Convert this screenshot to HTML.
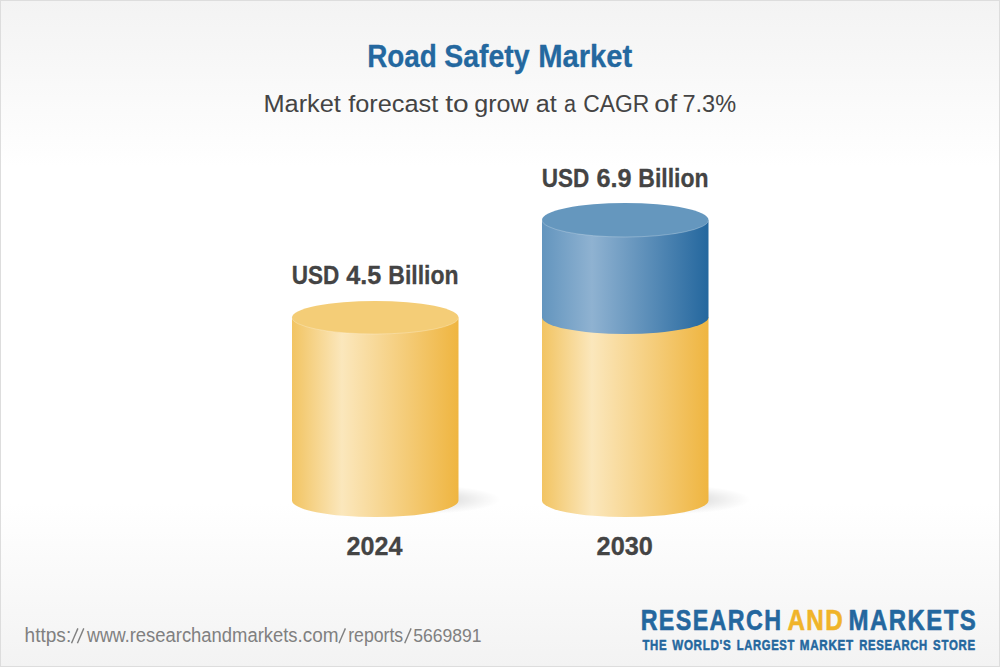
<!DOCTYPE html>
<html><head><meta charset="utf-8">
<style>
html,body{margin:0;padding:0;width:1000px;height:667px;overflow:hidden;background:#fff;}
svg{display:block;font-family:"Liberation Sans",sans-serif;}
</style></head><body>
<svg width="1000" height="667" viewBox="0 0 1000 667">
<defs>
<linearGradient id="bg" x1="0" y1="0" x2="0" y2="1">
<stop offset="0" stop-color="#f3f3f3"/>
<stop offset="0.25" stop-color="#ffffff"/>
<stop offset="0.755" stop-color="#ffffff"/>
<stop offset="1" stop-color="#f3f3f3"/>
</linearGradient>
<linearGradient id="yb" x1="0" y1="0" x2="1" y2="0">
<stop offset="0" stop-color="#f2c462"/>
<stop offset="0.30" stop-color="#fbe7bc"/>
<stop offset="1" stop-color="#efb540"/>
</linearGradient>
<linearGradient id="bb" x1="0" y1="0" x2="1" y2="0">
<stop offset="0" stop-color="#6395be"/>
<stop offset="0.30" stop-color="#8fb2d1"/>
<stop offset="1" stop-color="#24679e"/>
</linearGradient>
<radialGradient id="sh" cx="0.5" cy="0.5" r="0.5">
<stop offset="0" stop-color="#000" stop-opacity="0.13"/>
<stop offset="0.5" stop-color="#000" stop-opacity="0.10"/>
<stop offset="0.8" stop-color="#000" stop-opacity="0.035"/>
<stop offset="1" stop-color="#000" stop-opacity="0"/>
</radialGradient>
</defs>
<rect x="0" y="0" width="1000" height="667" fill="#dddddd"/>
<rect x="1" y="1" width="998" height="665" fill="url(#bg)"/>

<!-- shadows -->
<ellipse cx="415" cy="499.5" rx="86" ry="15" fill="url(#sh)"/>
<ellipse cx="665" cy="499.5" rx="86" ry="15" fill="url(#sh)"/>

<!-- cylinder 1 -->
<path d="M292 317.5 L292 500.5 A83.25 16.6 0 0 0 458.5 500.5 L458.5 317.5 Z" fill="url(#yb)"/>
<ellipse cx="375.25" cy="317.5" rx="83.25" ry="16.5" fill="#f4cd77"/>
<path d="M292 317.5 A83.25 16.5 0 0 0 458.5 317.5" fill="none" stroke="#fff" stroke-opacity="0.35" stroke-width="0.7"/>

<!-- cylinder 2 -->
<path d="M542 317.3 L542 500.5 A83.25 16.6 0 0 0 708.5 500.5 L708.5 317.3 Z" fill="url(#yb)"/>
<path d="M542 220 L542 317.3 A83.25 16.6 0 0 0 708.5 317.3 L708.5 220 Z" fill="url(#bb)"/>
<ellipse cx="625.25" cy="220" rx="83.25" ry="17" fill="#6597be"/>
<path d="M542 220 A83.25 17 0 0 0 708.5 220" fill="none" stroke="#fff" stroke-opacity="0.35" stroke-width="0.7"/>

<text transform="translate(367.15 66.7) scale(0.8986 1)" font-size="31" font-weight="bold" fill="#24689f" stroke="#24689f" stroke-width="0.3" stroke-linejoin="round">Road</text>
<text transform="translate(444.19 66.7) scale(0.9179 1)" font-size="31" font-weight="bold" fill="#24689f" stroke="#24689f" stroke-width="0.3" stroke-linejoin="round">Safety</text>
<text transform="translate(538.17 66.7) scale(0.9409 1)" font-size="31" font-weight="bold" fill="#24689f" stroke="#24689f" stroke-width="0.3" stroke-linejoin="round">Market</text>
<text transform="translate(263.42 112) scale(1.0352 1)" font-size="24.5" fill="#444444">Market</text>
<text transform="translate(348.21 112) scale(1.0344 1)" font-size="24.5" fill="#444444">forecast</text>
<text transform="translate(445.28 112) scale(1.1462 1)" font-size="24.5" fill="#444444">to</text>
<text transform="translate(474.24 112) scale(1.0254 1)" font-size="24.5" fill="#444444">grow</text>
<text transform="translate(535.77 112) scale(1.0253 1)" font-size="24.5" fill="#444444">at</text>
<text transform="translate(563.96 112) scale(0.8813 1)" font-size="24.5" fill="#444444">a</text>
<text transform="translate(583.16 112) scale(0.9344 1)" font-size="24.5" fill="#444444">CAGR</text>
<text transform="translate(654.25 112) scale(1.1264 1)" font-size="24.5" fill="#444444">of</text>
<text transform="translate(682.47 112) scale(0.9597 1)" font-size="24.5" fill="#444444">7.3%</text>
<text transform="translate(291.66 284) scale(0.8941 1)" font-size="25.2" font-weight="bold" fill="#444444" stroke="#444444" stroke-width="0.3" stroke-linejoin="round">USD</text>
<text transform="translate(346.13 284) scale(0.9787 1)" font-size="25.8" font-weight="bold" fill="#444444" stroke="#444444" stroke-width="0.3" stroke-linejoin="round">4.5</text>
<text transform="translate(388.28 284) scale(0.9129 1)" font-size="25.2" font-weight="bold" fill="#444444" stroke="#444444" stroke-width="0.3" stroke-linejoin="round">Billion</text>
<text transform="translate(541.66 187.1) scale(0.8941 1)" font-size="25.2" font-weight="bold" fill="#444444" stroke="#444444" stroke-width="0.3" stroke-linejoin="round">USD</text>
<text transform="translate(596.53 187.1) scale(0.9791 1)" font-size="25.8" font-weight="bold" fill="#444444" stroke="#444444" stroke-width="0.3" stroke-linejoin="round">6.9</text>
<text transform="translate(638.28 187.1) scale(0.9129 1)" font-size="25.2" font-weight="bold" fill="#444444" stroke="#444444" stroke-width="0.3" stroke-linejoin="round">Billion</text>
<text transform="translate(346.59 555) scale(0.9780 1)" font-size="25.7" font-weight="bold" fill="#444444" stroke="#444444" stroke-width="0.3" stroke-linejoin="round">2024</text>
<text transform="translate(596.58 555) scale(0.9846 1)" font-size="25.7" font-weight="bold" fill="#444444" stroke="#444444" stroke-width="0.3" stroke-linejoin="round">2030</text>
<text transform="translate(24.60 642) scale(0.9822 1)" font-size="19.4" fill="#808080">https:</text>
<text transform="translate(87.00 642) scale(0.9225 1)" font-size="19.4" fill="#808080">www.</text>
<text transform="translate(129.68 642) scale(0.9502 1)" font-size="19.4" fill="#808080">researchandmarkets</text>
<text transform="translate(297.56 642) scale(0.9772 1)" font-size="19.4" fill="#808080">.com</text>
<text transform="translate(348.19 642) scale(0.9112 1)" font-size="19.4" fill="#808080">reports</text>
<text transform="translate(413.13 642) scale(0.9256 1)" font-size="19" fill="#808080">5669891</text>
<text transform="translate(640.65 629.9) scale(0.8084 1)" font-size="28.8" font-weight="bold" fill="#24679e" stroke="#24679e" stroke-width="0.6" stroke-linejoin="round" letter-spacing="1.73">RESEARCH</text>
<text transform="translate(787.43 629.9) scale(0.8410 1)" font-size="28.8" font-weight="bold" fill="#f0b429" stroke="#f0b429" stroke-width="0.6" stroke-linejoin="round" letter-spacing="1.73">AND</text>
<text transform="translate(848.55 629.9) scale(0.8331 1)" font-size="28.8" font-weight="bold" fill="#24679e" stroke="#24679e" stroke-width="0.6" stroke-linejoin="round" letter-spacing="1.73">MARKETS</text>
<text transform="translate(642.39 650) scale(0.7912 1)" font-size="14.4" font-weight="bold" fill="#24679e" stroke="#24679e" stroke-width="0.5" stroke-linejoin="round" letter-spacing="0.86">THE</text>
<text transform="translate(672.22 650) scale(0.8076 1)" font-size="14.4" font-weight="bold" fill="#24679e" stroke="#24679e" stroke-width="0.5" stroke-linejoin="round" letter-spacing="0.86">WORLD&#39;S</text>
<text transform="translate(736.67 650) scale(0.7814 1)" font-size="14.4" font-weight="bold" fill="#24679e" stroke="#24679e" stroke-width="0.5" stroke-linejoin="round" letter-spacing="0.86">LARGEST</text>
<text transform="translate(799.76 650) scale(0.8096 1)" font-size="14.4" font-weight="bold" fill="#24679e" stroke="#24679e" stroke-width="0.5" stroke-linejoin="round" letter-spacing="0.86">MARKET</text>
<text transform="translate(859.24 650) scale(0.7839 1)" font-size="14.4" font-weight="bold" fill="#24679e" stroke="#24679e" stroke-width="0.5" stroke-linejoin="round" letter-spacing="0.86">RESEARCH</text>
<text transform="translate(933.11 650) scale(0.7953 1)" font-size="14.4" font-weight="bold" fill="#24679e" stroke="#24679e" stroke-width="0.5" stroke-linejoin="round" letter-spacing="0.86">STORE</text>
<line x1="71.50" y1="643.2" x2="77.90" y2="628.4" stroke="#808080" stroke-width="1.4"/>
<line x1="77.40" y1="643.2" x2="83.80" y2="628.4" stroke="#808080" stroke-width="1.4"/>
<line x1="339.00" y1="643.2" x2="345.40" y2="628.4" stroke="#808080" stroke-width="1.4"/>
<line x1="404.70" y1="643.2" x2="411.10" y2="628.4" stroke="#808080" stroke-width="1.4"/>
</svg>
</body></html>
